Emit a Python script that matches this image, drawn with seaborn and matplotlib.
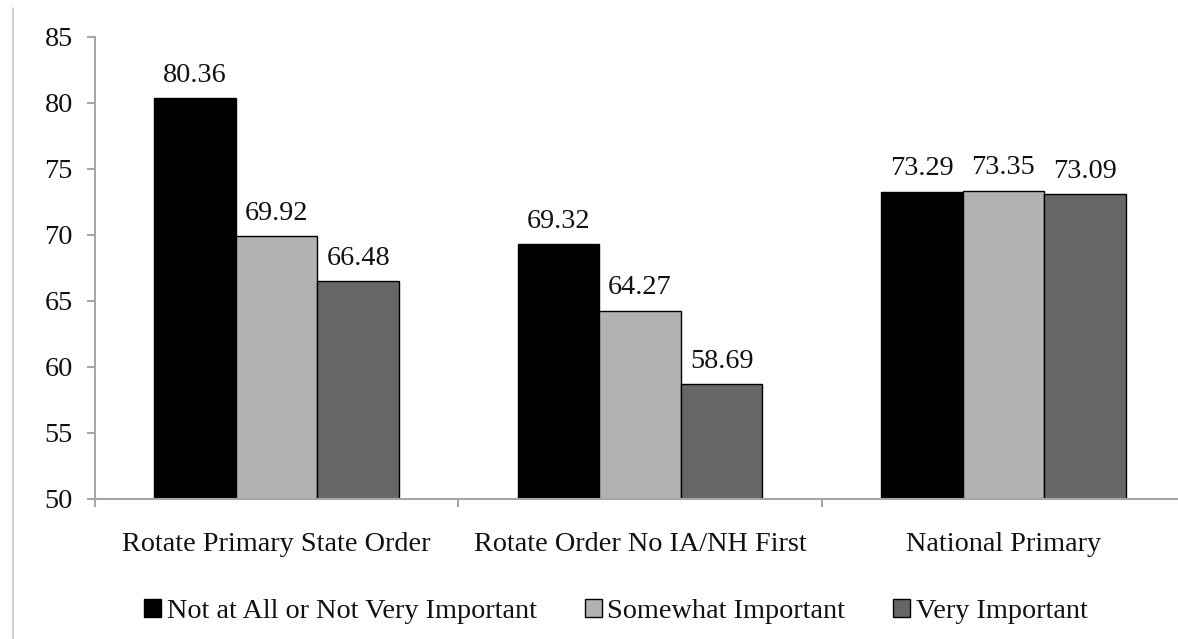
import matplotlib
matplotlib.use("Agg")
import matplotlib.pyplot as plt
from matplotlib.lines import Line2D
from matplotlib.ticker import FixedLocator
import pandas as pd
import seaborn as sns

# Mean ratings by primary reform proposal and importance group
proposals = ["Rotate Primary State Order", "Rotate Order No IA/NH First", "National Primary"]
groups = ["Not at All or Not Very Important", "Somewhat Important", "Very Important"]
not_important = [80.36, 69.32, 73.29]
somewhat_important = [69.92, 64.27, 73.35]
very_important = [66.48, 58.69, 73.09]
y_ticks = [50, 55, 60, 65, 70, 75, 80, 85]

palette = ["#000000", "#b2b2b2", "#666666"]
FS = 20.3

df = pd.DataFrame({
    "proposal": proposals * 3,
    "group": [g for g in groups for _ in proposals],
    "value": not_important + somewhat_important + very_important,
})

sns.set_theme(style="white")
plt.rcParams["font.family"] = ["Liberation Serif", "DejaVu Serif"]
plt.rcParams["text.color"] = "#111111"

fig = plt.figure(figsize=(11.78, 6.39), dpi=100)
ax = fig.add_axes([95 / 1178, 140 / 639, 1090 / 1178, 462 / 639])

sns.barplot(
    data=df, x="proposal", y="value", hue="group",
    order=proposals, hue_order=groups, palette=palette,
    width=0.674, gap=0, edgecolor="#000000", linewidth=1.0,
    saturation=1, ax=ax, errorbar=None,
)

ax.set_ylim(50, 85)
ax.set_xlim(-0.5, 2.5)
ax.set_yticks(y_ticks)
ax.set_xlabel("")
ax.set_ylabel("")

for container in ax.containers:
    ax.bar_label(container, fmt="%.2f", padding=7.5, fontsize=FS, color="#111111")

spine_color = "#a6a6a6"
for side in ["top", "right"]:
    ax.spines[side].set_visible(False)
for side in ["left", "bottom"]:
    ax.spines[side].set_color(spine_color)
    ax.spines[side].set_linewidth(1.5)

ax.tick_params(axis="y", which="major", direction="out", length=6, width=1.5,
               color=spine_color, labelsize=FS, pad=10, left=True, labelcolor="#111111")
ax.tick_params(axis="x", which="major", length=0, labelsize=FS, pad=24, labelcolor="#111111")
ax.xaxis.set_minor_locator(FixedLocator([-0.5, 0.5, 1.5, 2.5]))
ax.tick_params(axis="x", which="minor", direction="out", length=6, width=1.5,
               color=spine_color, bottom=True)

handles, labels = ax.get_legend_handles_labels()
ax.legend(
    handles, labels, loc="lower center", bbox_to_anchor=(0.478, -0.295),
    ncol=3, frameon=False, fontsize=FS, handlelength=0.6, handleheight=0.6,
    handletextpad=0.2, columnspacing=1.7, borderaxespad=0,
)

# thin frame line along the left edge of the canvas
fig.add_artist(Line2D([12.5 / 1178, 12.5 / 1178], [0, 1 - 8 / 639],
                      transform=fig.transFigure, color="#c8c8c8", linewidth=1.2))

fig.savefig("out.png", dpi=100)
